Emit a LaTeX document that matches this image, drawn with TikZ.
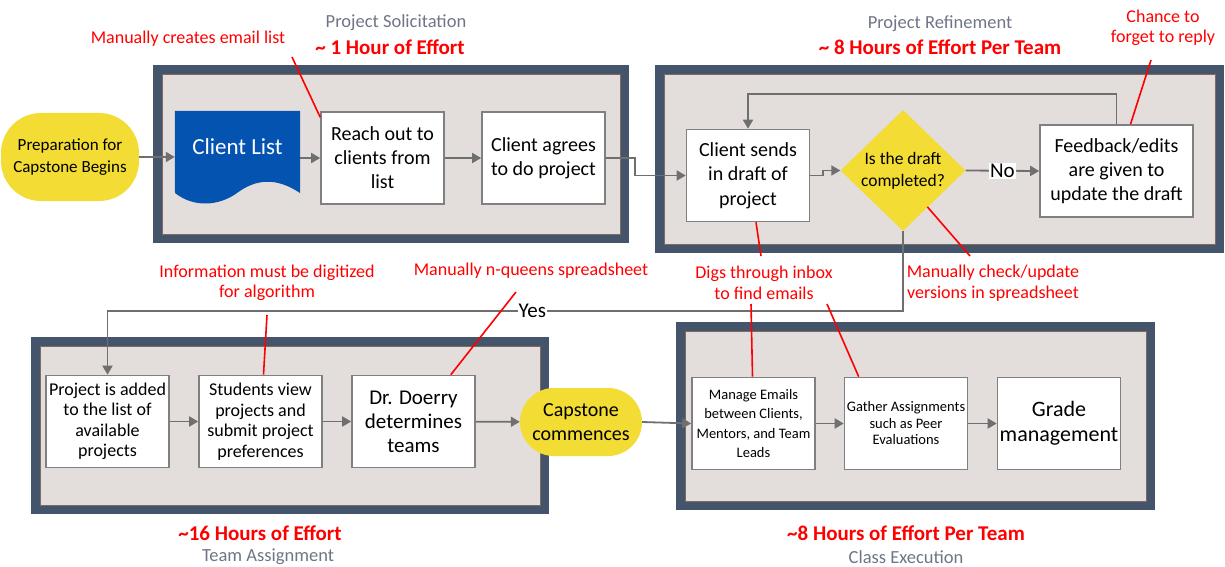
\documentclass[tikz,border=0pt]{standalone}
\usepackage{fontspec}
\setmainfont{Carlito}
\usetikzlibrary{arrows.meta,positioning,shapes.geometric,calc}
\definecolor{cpframe}{HTML}{44546A}
\definecolor{cpstage}{HTML}{E3DEDB}
\definecolor{cpstageln}{HTML}{7E6B60}
\definecolor{cpboxln}{HTML}{808080}
\definecolor{cparrow}{HTML}{6F6F6F}
\definecolor{cpyellow}{HTML}{F3DC34}
\definecolor{cpblue}{HTML}{0453B0}
\definecolor{cpred}{HTML}{FF0000}
\definecolor{cpgrey}{HTML}{6E7584}
\newcommand{\fs}[2]{\fontsize{#1}{#2}\selectfont}
\tikzset{
  box/.style    = {draw=cpboxln, fill=white, line width=1.6pt, align=center,
                   minimum width=123pt, minimum height=92pt, inner sep=2pt},
  term/.style   = {fill=cpyellow, align=center, inner sep=2pt},
  ask/.style    = {diamond, fill=cpyellow, align=center, inner sep=0pt,
                   minimum width=125pt, minimum height=93pt},
  ar/.style     = {-{Triangle[length=9pt,width=10pt]}, line width=1.8pt, draw=cparrow},
  note/.style   = {draw=cpred, line width=1.6pt},
  redtxt/.style = {font=\fs{18}{20.5}, text=cpred, align=center, inner sep=0pt},
  effort/.style = {font=\bfseries\fs{21}{24}, text=cpred, inner sep=0pt},
  phase/.style  = {font=\fs{18.5}{20}, text=cpgrey, inner sep=0pt},
  onln/.style   = {fill=white, inner sep=1pt, font=\fs{21}{24}},
}
\begin{document}
\begin{tikzpicture}[x=1pt,y=-1pt]
\useasboundingbox (0,0) rectangle (1225,567);

% -- the four stages ---------------------------------------------------------
\def\stage#1#2#3#4{%
  \fill[cpframe] (#1,#2) rectangle (#3,#4);
  \draw[cpstageln, fill=cpstage, line width=0.8pt]
    ({#1+9},{#2+9}) rectangle ({#3-9},{#4-9});}
\stage{153}{65}{629}{243}
\stage{655}{65}{1224}{253}
\stage{31}{337}{549}{514}
\stage{676}{322}{1155}{510}

% -- stage titles ------------------------------------------------------------
\node[phase]  (solt) at (396,23) {Project Solicitation};
\node[effort] (sole) at (390,47) {\textasciitilde{} 1 Hour of Effort};
\node[phase]  (reft) at (940,24) {Project Refinement};
\node[effort] (refe) at (940,47) {\textasciitilde{} 8 Hours of Effort Per Team};
\node[effort] (tame) at (260,533) {\textasciitilde16 Hours of Effort};
\node[phase]  (tamt) at (268,557) {Team Assignment};
\node[effort] (clae) at (906,533) {\textasciitilde8 Hours of Effort Per Team};
\node[phase]  (clat) at (906,557) {Class Execution};

% -- row 1: solicitation -----------------------------------------------------
\node[term, rounded corners=40pt, minimum width=138pt, minimum height=88pt,
      font=\fs{17}{22}] (prep) at (70,157) {Preparation for\\Capstone Begins};
\node[minimum width=125pt, minimum height=94pt, inner sep=0pt] (clist) at (237.5,158) {};
\fill[cpblue] (clist.north west) -- (clist.north east) -- (300,193)
  .. controls (276,177) and (256,179) .. (237,193)
  .. controls (219,206) and (194,208) .. (175,193) -- cycle;
\node[text=white, font=\fs{23}{26}] (clistlbl) at ($(clist.center)+(0,-11)$) {Client List};
\node[box, font=\fs{20}{24}] (reach)  at (382.5,158) {Reach out to\\clients from\\list};
\node[box, font=\fs{20}{24}] (agrees) at (543.5,158) {Client agrees\\to do project};

% -- row 1: refinement -------------------------------------------------------
\node[box, font=\fs{20}{24.5}] (sends) at (748,175.5) {Client sends\\in draft of\\project};
\node[ask, font=\fs{17.5}{22}] (chk) at (903,170.5) {Is the draft\\completed?};
\node[box, minimum width=153pt, font=\fs{20}{24}] (fb) at (1116.5,171)
  {Feedback/edits\\are given to\\update the draft};
\coordinate (loop) at (0,94);
\coordinate (yesrow) at (0,311);

\draw[ar] (prep.east) -- (prep.east -| clist.west);
\draw[ar] (clist.east) -- (reach.west);
\draw[ar] (reach) -- (agrees);
\draw[ar] (agrees.east) -- ++(29,0) |- (sends.west);
\draw[ar] (sends.east) -- ++(13,0) |- (chk.west);
\draw[ar] (chk.east) -- node[onln] (no) {No} (fb.west);
\draw[ar] (fb.north) -- (fb.north |- loop) -- (sends.north |- loop) -- (sends.north);

% -- row 2: team assignment --------------------------------------------------
\node[box, font=\fs{18}{20.5}] (added)    at (107.5,421.5) {Project is added\\to the list of\\available\\projects};
\node[box, font=\fs{18}{20.5}] (students) at (260.5,421.5) {Students view\\projects and\\submit project\\preferences};
\node[box, font=\fs{21}{24}]   (doerry)   at (413.5,421.5) {Dr. Doerry\\determines\\teams};
\node[term, rounded corners=34pt, minimum width=122pt, minimum height=68pt,
      font=\fs{20}{24}] (capst) at (581,422) {Capstone\\commences};

% -- row 2: class execution --------------------------------------------------
\node[box, font=\fs{14.5}{19.5}] (emails) at (753.5,423.5) {Manage Emails\\between Clients,\\Mentors, and Team\\Leads};
\node[box, font=\fs{14.5}{16.5}] (gather) at (906,423.5) {Gather Assignments\\such as Peer\\Evaluations};
\node[box, font=\fs{22}{25}]     (grade)  at (1059,423.5) {Grade\\management};

\draw[ar] (chk.south) -- (chk.south |- yesrow) -- node[pos=0.466, onln] (yes) {Yes}
  (added.north |- yesrow) -- (added.north);
\draw[ar] (added) -- (students);
\draw[ar] (students) -- (doerry);
\draw[ar] (doerry) -- (capst);
\draw[ar] (capst.east) -- (emails.west);
\draw[ar] (emails) -- (gather);
\draw[ar] (gather) -- (grade);

% -- red remarks -------------------------------------------------------------
\node[redtxt] (n1) at (188,39)  {Manually creates email list};
\node[redtxt] (n2) at (1163,28) {Chance to\\forget to reply};
\node[redtxt] (n3) at (764,283) {Digs through inbox\\to find emails};
\node[redtxt] (n4) at (993,283) {Manually check/update\\versions in spreadsheet};
\node[redtxt] (n5) at (267,283) {Information must be digitized\\for algorithm};
\node[redtxt] (n6) at (531,271) {Manually n-queens spreadsheet};

\coordinate (n1e) at (292,57);
\coordinate (n2e) at (1151,60);
\coordinate (n3a) at (761,256);
\coordinate (n3b) at (751,304);
\coordinate (n4a) at (970,256);
\coordinate (n4b) at (827,304);
\coordinate (n5e) at (267,315);
\coordinate (n6e) at (516,292);
\draw[note] (n1e) -- ($(reach.north west)+(0,6)$);
\draw[note] (n2e) -- ($(fb.north)+(14,0)$);
\draw[note] ($(sends.south)+(8,0)$) -- (n3a);
\draw[note] (n3b) -- ($(emails.north)+(-1,0)$);
\draw[note] ($(chk.south east)+(-7,6)$) -- (n4a);
\draw[note] (n4b) -- ($(gather.north west)+(15,0)$);
\draw[note] (n5e) -- ($(students.north)+(3,0)$);
\draw[note] (n6e) -- ($(doerry.north east)+(-25,0)$);

\end{tikzpicture}
\end{document}
